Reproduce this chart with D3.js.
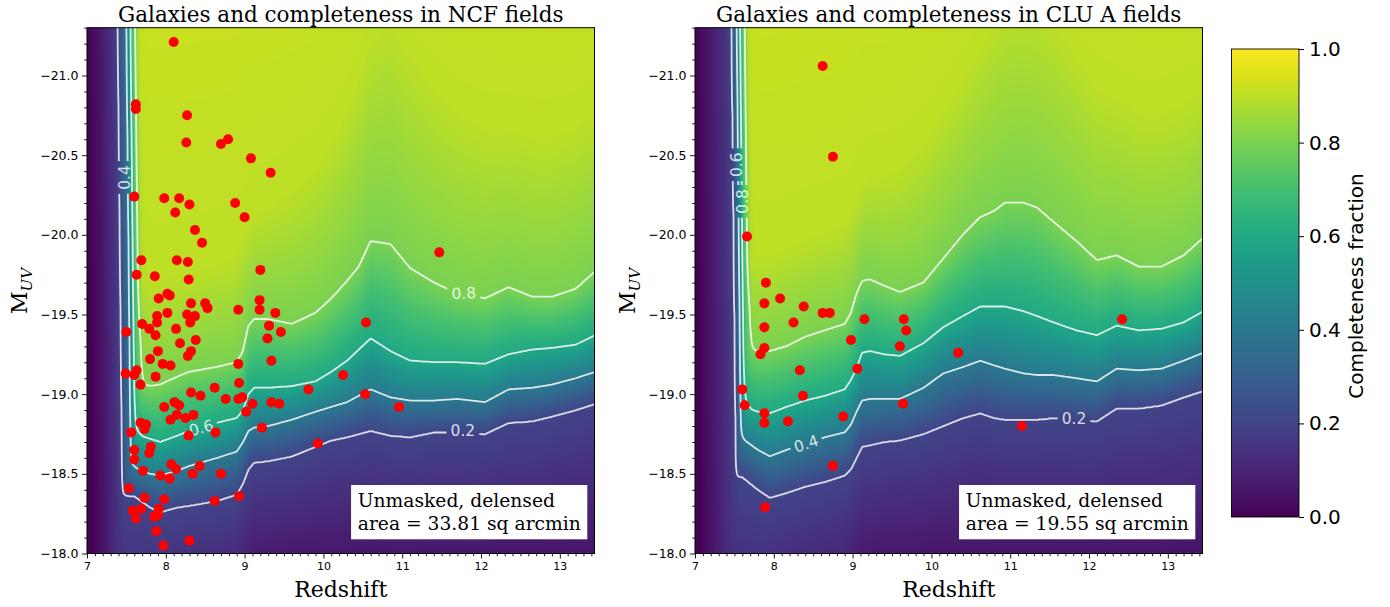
<!DOCTYPE html>
<html><head><meta charset="utf-8">
<script src="https://cdn.jsdelivr.net/npm/d3@7"></script>
<style>body{margin:0;background:#fff}svg{display:block}</style>
</head><body>
<svg id="chart" width="1390" height="607"></svg>
<script>
// ---------------- DATA ----------------
const zDomain = [7, 13.44];
const mDomain = [-18, -21.3];
const contourLevels = [0.2, 0.4, 0.6, 0.8];
const xTicks = [7, 8, 9, 10, 11, 12, 13];
const yTicks = [-21.0, -20.5, -20.0, -19.5, -19.0, -18.5, -18.0];
const cbTicks = [0, 0.2, 0.4, 0.6, 0.8, 1.0];
const wallValues = [0, 0.05, 0.13, 0.2, 0.4, 0.6, 0.8, 1.0, 3.0];

// NCF panel: completeness contour positions (M_UV) at redshift nodes
const ncfNodeZ = [7.6, 7.8, 7.93, 8.15, 8.3, 8.65, 8.9, 8.98, 9.05, 9.12, 9.3, 9.6, 9.9, 10.1, 10.3, 10.45, 10.6, 10.85, 11.1, 11.4, 11.7, 12.05, 12.35, 12.65, 12.9, 13.2, 13.45];
const ncfC90 = [-19.75, -19.70, -19.70, -19.72, -19.75, -19.80, -19.85, -19.95, -20.05, -20.10, -20.15, -20.25, -20.40, -20.55, -20.75, -20.95, -21.20, -21.30, -21.10, -20.90, -20.75, -20.65, -20.65, -20.60, -20.60, -20.65, -20.75];
const ncfC80 = [-19.07, -19.05, -19.06, -19.11, -19.14, -19.17, -19.20, -19.27, -19.43, -19.47, -19.47, -19.44, -19.51, -19.60, -19.71, -19.80, -19.96, -19.94, -19.79, -19.70, -19.63, -19.60, -19.67, -19.61, -19.61, -19.66, -19.77];
const ncfC60 = [-18.75, -18.72, -18.70, -18.74, -18.77, -18.82, -18.85, -18.90, -19.00, -19.04, -19.04, -19.05, -19.08, -19.14, -19.21, -19.28, -19.35, -19.27, -19.21, -19.20, -19.20, -19.19, -19.25, -19.28, -19.29, -19.31, -19.37];
const ncfC40 = [-18.54, -18.50, -18.49, -18.52, -18.55, -18.60, -18.64, -18.70, -18.77, -18.79, -18.80, -18.84, -18.89, -18.92, -18.95, -18.99, -19.03, -18.98, -18.96, -18.96, -18.97, -18.95, -19.03, -19.04, -19.06, -19.10, -19.14];
const ncfC20 = [-18.36, -18.29, -18.26, -18.29, -18.30, -18.33, -18.37, -18.44, -18.53, -18.57, -18.58, -18.61, -18.67, -18.71, -18.73, -18.75, -18.77, -18.74, -18.73, -18.76, -18.76, -18.75, -18.82, -18.83, -18.86, -18.90, -18.94];
const ncfFloor = [0.13, 0.13, 0.12, 0.11, 0.10, 0.09, 0.08, 0.06, 0.04, 0.03, 0.03, 0.02, 0.02, 0.02, 0.02, 0.02, 0.02, 0.02, 0.02, 0.02, 0.02, 0.02, 0.02, 0.02, 0.02, 0.02, 0.02];
const ncfWallZ = [7.0, 7.15, 7.3, 7.39, 7.50, 7.55, 7.59, 7.64, 7.8];

const ncfGalZ = [8.10, 7.62, 7.62, 8.27, 8.26, 8.70, 8.79, 9.08, 9.33, 7.60,
  7.98, 8.17, 8.30, 8.88, 8.12, 9.00, 8.37, 8.46, 7.69, 8.14,
  8.28, 7.63, 7.86, 8.29, 9.20, 7.91, 8.02, 8.05, 8.32, 8.50,
  8.53, 9.19, 8.92, 9.19, 9.39, 7.89, 7.89, 8.02, 8.27, 8.37,
  8.31, 7.70, 7.79, 8.13, 7.50, 7.87, 9.31, 9.46, 10.54, 8.38,
  8.18, 9.29, 7.90, 8.32, 8.28, 7.80, 7.96, 8.06, 9.34, 8.92,
  7.49, 7.63, 7.60, 7.87, 7.68, 10.25, 8.93, 9.81, 8.62, 8.32,
  8.44, 8.76, 8.92, 8.97, 10.53, 8.11, 8.17, 7.98, 9.10, 9.34,
  9.44, 9.02, 8.14, 8.06, 8.25, 8.35, 7.68, 7.75, 7.73, 9.22,
  7.56, 8.29, 8.63, 9.93, 7.81, 7.79, 7.60, 7.60, 8.07, 8.13,
  7.71, 8.43, 8.34, 8.70, 7.93, 8.05, 7.53, 7.73, 7.98, 8.62,
  8.93, 7.58, 7.69, 7.91, 7.85, 7.90, 7.62, 7.88, 8.30, 7.97,
  11.47, 10.96];
const ncfGalM = [-21.21, -20.82, -20.79, -20.75, -20.58, -20.57, -20.60, -20.48, -20.39, -20.24,
  -20.23, -20.23, -20.19, -20.20, -20.14, -20.11, -20.03, -19.95, -19.84, -19.84,
  -19.83, -19.75, -19.74, -19.72, -19.78, -19.60, -19.63, -19.62, -19.57, -19.57,
  -19.54, -19.59, -19.53, -19.53, -19.51, -19.49, -19.45, -19.51, -19.50, -19.49,
  -19.45, -19.44, -19.41, -19.41, -19.39, -19.37, -19.43, -19.39, -19.45, -19.34,
  -19.32, -19.35, -19.27, -19.27, -19.24, -19.22, -19.19, -19.18, -19.21, -19.19,
  -19.13, -19.15, -19.12, -19.11, -19.06, -19.12, -19.07, -19.03, -19.04, -19.01,
  -18.99, -18.97, -18.97, -18.98, -19.00, -18.95, -18.93, -18.92, -18.94, -18.95,
  -18.94, -18.89, -18.87, -18.84, -18.85, -18.87, -18.82, -18.81, -18.78, -18.79,
  -18.76, -18.74, -18.76, -18.69, -18.67, -18.63, -18.65, -18.59, -18.56, -18.53,
  -18.52, -18.55, -18.50, -18.50, -18.49, -18.47, -18.41, -18.35, -18.34, -18.33,
  -18.36, -18.27, -18.28, -18.28, -18.23, -18.24, -18.22, -18.14, -18.08, -18.05,
  -19.89, -18.92];
const ncfLabelText = ["0.4", "0.6", "0.8", "0.2"];
const ncfLabelZ = [7.47, 8.45, 11.78, 11.77];
const ncfLabelM = [-20.36, -18.79, -19.635, -18.77];

// CLU A panel
const cluNodeZ = [7.6, 7.8, 7.95, 8.16, 8.4, 8.65, 8.9, 8.98, 9.05, 9.12, 9.22, 9.4, 9.6, 9.9, 10.15, 10.4, 10.62, 10.8, 10.93, 11.17, 11.34, 11.55, 11.84, 12.1, 12.35, 12.63, 12.92, 13.2, 13.45];
const cluC90 = [-19.85, -19.85, -19.85, -19.90, -19.95, -20.00, -20.05, -20.10, -20.20, -20.30, -20.35, -20.35, -20.40, -20.55, -20.75, -20.95, -21.15, -21.30, -21.40, -21.45, -21.40, -21.30, -21.10, -20.90, -20.85, -20.75, -20.75, -20.80, -20.90];
const cluC80 = [-19.29, -19.27, -19.27, -19.30, -19.36, -19.40, -19.44, -19.51, -19.63, -19.71, -19.72, -19.68, -19.64, -19.70, -19.85, -20.00, -20.11, -20.15, -20.20, -20.20, -20.17, -20.08, -19.96, -19.84, -19.87, -19.80, -19.80, -19.87, -19.98];
const cluC60 = [-18.92, -18.89, -18.88, -18.92, -18.96, -18.99, -19.03, -19.09, -19.16, -19.26, -19.27, -19.25, -19.24, -19.32, -19.42, -19.49, -19.55, -19.55, -19.55, -19.52, -19.49, -19.45, -19.40, -19.37, -19.43, -19.40, -19.41, -19.45, -19.52];
const cluC40 = [-18.72, -18.65, -18.61, -18.65, -18.69, -18.73, -18.76, -18.81, -18.89, -18.96, -18.97, -18.97, -18.97, -19.04, -19.13, -19.17, -19.21, -19.18, -19.16, -19.13, -19.12, -19.12, -19.10, -19.08, -19.16, -19.15, -19.16, -19.21, -19.26];
const cluC20 = [-18.48, -18.40, -18.35, -18.38, -18.42, -18.45, -18.49, -18.53, -18.60, -18.67, -18.68, -18.70, -18.71, -18.75, -18.80, -18.85, -18.88, -18.85, -18.84, -18.84, -18.84, -18.85, -18.84, -18.83, -18.91, -18.91, -18.93, -18.98, -19.02];
const cluFloor = [0.12, 0.12, 0.11, 0.10, 0.09, 0.08, 0.07, 0.05, 0.04, 0.03, 0.03, 0.02, 0.02, 0.02, 0.02, 0.02, 0.02, 0.02, 0.02, 0.02, 0.02, 0.02, 0.02, 0.02, 0.02, 0.02, 0.02, 0.02, 0.02];
const cluWallZ = [7.0, 7.15, 7.35, 7.465, 7.53, 7.57, 7.61, 7.66, 7.8];

const cluGalZ = [8.62, 8.75, 7.66, 7.90, 7.88, 8.08, 8.38, 8.62, 8.71, 7.88,
  8.25, 9.15, 9.65, 9.68, 7.88, 7.83, 8.98, 9.60, 10.34, 8.33,
  9.06, 7.60, 8.37, 7.63, 7.88, 7.88, 8.18, 8.88, 9.64, 8.75,
  7.89, 12.42, 11.15];
const cluGalM = [-21.06, -20.49, -19.99, -19.70, -19.57, -19.60, -19.55, -19.51, -19.51, -19.42,
  -19.45, -19.47, -19.47, -19.40, -19.29, -19.25, -19.34, -19.30, -19.26, -19.15,
  -19.16, -19.03, -18.99, -18.93, -18.88, -18.82, -18.83, -18.86, -18.94, -18.55,
  -18.29, -19.47, -18.80];
const cluLabelText = ["0.6", "0.8", "0.4", "0.2"];
const cluLabelZ = [7.53, 7.60, 8.41, 11.81];
const cluLabelM = [-20.44, -20.21, -18.69, -18.85];

// ---------------- LAYOUT / STYLE ----------------
const svg = d3.select("#chart");
const defs = svg.append("defs");
const plotTop = 27.7, plotBottom = 553.5, plotW = 507.5;
const LEAN = 0.02, P = 6;

const panels = [
  {id: "ncf", left: 87, title: "Galaxies and completeness in NCF fields",
   nodeZ: ncfNodeZ, c: [ncfC90, ncfC80, ncfC60, ncfC40, ncfC20], floor: ncfFloor, wallZ: ncfWallZ,
   galZ: ncfGalZ, galM: ncfGalM, area: "33.81",
   lab: ncfLabelText, labZ: ncfLabelZ, labM: ncfLabelM, labAngle: [-90, -15, -3, 0]},
  {id: "clu", left: 695, title: "Galaxies and completeness in CLU A fields",
   nodeZ: cluNodeZ, c: [cluC90, cluC80, cluC60, cluC40, cluC20], floor: cluFloor, wallZ: cluWallZ,
   galZ: cluGalZ, galM: cluGalM, area: "19.55",
   lab: cluLabelText, labZ: cluLabelZ, labM: cluLabelM, labAngle: [-90, -90, -18, 0]}
];

// viridis lookup
const lut = d3.range(256).map(i => d3.rgb(d3.interpolateViridis(i / 255)));

function makeField(p) {
  const s = arr => d3.scaleLinear().domain(p.nodeZ).range(arr).clamp(true);
  const sc = p.c.map(s);
  const sf = s(p.floor);
  const wall = d3.scaleLinear().domain(p.wallZ).range(wallValues).clamp(true);
  return z => {
    const Ms = [-22.5, ...sc.map(f => f(z)), -17.8];
    const vs = [0.93, 0.9, 0.8, 0.6, 0.4, 0.2, sf(z)];
    const g = d3.scaleLinear().domain(Ms).range(vs).clamp(true);
    return M => {
      const f = wall(z - LEAN * (M + 21.3));
      const gv = g(M);
      if (f <= 0 || gv <= 0) return 0;
      return Math.pow(Math.pow(f, -P) + Math.pow(gv, -P), -1 / P);
    };
  };
}

panels.forEach(p => {
  const x = d3.scaleLinear().domain(zDomain).range([p.left, p.left + plotW]);
  const y = d3.scaleLinear().domain(mDomain).range([plotBottom, plotTop]);
  const g = svg.append("g");

  defs.append("clipPath").attr("id", "clip-" + p.id).append("rect")
    .attr("x", p.left).attr("y", plotTop).attr("width", plotW).attr("height", plotBottom - plotTop);

  // field grid
  const gx0 = Math.floor(p.left) - 2, gx1 = Math.ceil(p.left + plotW) + 2;
  const gy0 = Math.floor(plotTop) - 2, gy1 = Math.ceil(plotBottom) + 2;
  const n = gx1 - gx0, m = gy1 - gy0;
  const field = makeField(p);
  const values = new Float64Array(n * m);
  const Mrow = d3.range(m).map(j => y.invert(gy0 + j + 0.5));
  for (let i = 0; i < n; i++) {
    const col = field(x.invert(gx0 + i + 0.5));
    for (let j = 0; j < m; j++) values[j * n + i] = col(Mrow[j]);
  }
  const canvas = document.createElement("canvas");
  canvas.width = n; canvas.height = m;
  const ctx = canvas.getContext("2d");
  const img = ctx.createImageData(n, m);
  for (let k = 0; k < n * m; k++) {
    const c = lut[Math.max(0, Math.min(255, Math.round(values[k] * 255)))];
    img.data[4 * k] = c.r; img.data[4 * k + 1] = c.g; img.data[4 * k + 2] = c.b; img.data[4 * k + 3] = 255;
  }
  ctx.putImageData(img, 0, 0);
  g.append("image").attr("x", gx0).attr("y", gy0).attr("width", n).attr("height", m)
    .attr("preserveAspectRatio", "none")
    .attr("href", canvas.toDataURL()).attr("clip-path", `url(#clip-${p.id})`);

  // mask for contour labels
  const mask = defs.append("mask").attr("id", "mask-" + p.id)
    .attr("maskUnits", "userSpaceOnUse").attr("x", 0).attr("y", 0).attr("width", 1390).attr("height", 607);
  mask.append("rect").attr("x", 0).attr("y", 0).attr("width", 1390).attr("height", 607).attr("fill", "#fff");

  const contours = d3.contours().size([n, m]).thresholds(contourLevels)(Array.from(values));
  g.append("g").attr("clip-path", `url(#clip-${p.id})`)
    .append("g").attr("mask", `url(#mask-${p.id})`)
    .selectAll("path").data(contours).join("path")
    .attr("transform", `translate(${gx0},${gy0})`)
    .attr("d", d3.geoPath())
    .attr("fill", "none").attr("stroke", "#ffffff").attr("stroke-opacity", 0.82)
    .attr("stroke-width", 1.8).attr("stroke-linejoin", "round");

  // contour labels
  p.lab.forEach((t, i) => {
    const cx = x(p.labZ[i]), cy = y(p.labM[i]), a = p.labAngle[i];
    const txt = g.append("text").attr("transform", `translate(${cx},${cy}) rotate(${a})`)
      .attr("text-anchor", "middle").attr("dy", "0.36em")
      .attr("font-family", "DejaVu Sans").attr("font-size", 15.5)
      .attr("fill", "#ffffff").attr("fill-opacity", 0.82).text(t);
    const w = txt.node().getComputedTextLength();
    mask.append("rect").attr("transform", `translate(${cx},${cy}) rotate(${a})`)
      .attr("x", -w / 2 - 4).attr("y", -7).attr("width", w + 8).attr("height", 14).attr("fill", "#000");
  });

  // galaxies
  g.append("g").selectAll("circle").data(d3.range(p.galZ.length)).join("circle")
    .attr("cx", i => x(p.galZ[i])).attr("cy", i => y(p.galM[i])).attr("r", 5)
    .attr("fill", "#ff0000");

  // text box
  const tb = g.append("g");
  const lines = ["Unmasked, delensed", `area = ${p.area} sq arcmin`];
  const boxRight = p.left + plotW - 7.2, boxBottom = plotBottom - 14.2;
  const tt = tb.append("text").attr("font-family", "DejaVu Serif").attr("font-size", 18.7).attr("fill", "#000");
  const spans = lines.map(l => tt.append("tspan").text(l));
  const maxW = d3.max(spans, s => s.node().getComputedTextLength());
  const textLeft = boxRight - 6.5 - maxW;
  const base2 = boxBottom - 9.3, base1 = base2 - 23.3;
  spans[0].attr("x", textLeft).attr("y", base1);
  spans[1].attr("x", textLeft).attr("y", base2);
  tb.insert("rect", "text").attr("x", textLeft - 6.7).attr("y", base1 - 21.7)
    .attr("width", boxRight - textLeft + 6.7).attr("height", boxBottom - (base1 - 21.7)).attr("fill", "#fff");

  // axes
  const xAxis = g.append("g").attr("transform", `translate(0,${plotBottom})`)
    .call(d3.axisBottom(x).tickValues(xTicks).tickFormat(d3.format("d")).tickSize(5).tickPadding(3.5));
  const xMinor = d3.range(0, 65).map(i => 7 + i * 0.1).filter(v => v <= 13.44 && Math.abs(v - Math.round(v)) > 0.01);
  g.append("g").attr("transform", `translate(0,${plotBottom})`)
    .call(d3.axisBottom(x).tickValues(xMinor).tickFormat("").tickSize(2.8));
  const yAxis = g.append("g").attr("transform", `translate(${p.left},0)`)
    .call(d3.axisLeft(y).tickValues(yTicks).tickFormat(d3.format(".1f")).tickSize(5).tickPadding(3.5));
  const yMinor = d3.range(0, 34).map(i => -18 - i * 0.1).filter(v => v >= -21.3 && Math.abs(v * 2 - Math.round(v * 2)) > 0.01);
  g.append("g").attr("transform", `translate(${p.left},0)`)
    .call(d3.axisLeft(y).tickValues(yMinor).tickFormat("").tickSize(2.8));
  g.selectAll(".domain").remove();
  g.selectAll(".tick line").attr("stroke", "#000").attr("stroke-width", 0.9);
  xAxis.selectAll("text").attr("font-family", "DejaVu Sans").attr("font-size", 11).attr("fill", "#000");
  yAxis.selectAll("text").attr("font-family", "DejaVu Sans").attr("font-size", 12.5).attr("fill", "#000");

  // frame
  g.append("rect").attr("x", p.left).attr("y", plotTop).attr("width", plotW).attr("height", plotBottom - plotTop)
    .attr("fill", "none").attr("stroke", "#000").attr("stroke-width", 1);

  // titles and labels
  const cx = p.left + plotW / 2;
  g.append("text").attr("x", cx).attr("y", 21.5).attr("text-anchor", "middle")
    .attr("font-family", "DejaVu Serif").attr("font-size", 21.5).text(p.title);
  g.append("text").attr("x", cx).attr("y", 597).attr("text-anchor", "middle")
    .attr("font-family", "DejaVu Serif").attr("font-size", 22).text("Redshift");
  const yl = g.append("text").attr("transform", `translate(${p.left - 60},291) rotate(-90)`)
    .attr("text-anchor", "middle").attr("font-family", "DejaVu Serif").attr("font-size", 22);
  yl.append("tspan").text("M");
  yl.append("tspan").attr("font-style", "italic").attr("font-size", 15).attr("dy", 4.5).text("UV");
});

// ---------------- COLORBAR ----------------
const cbX = 1231.5, cbW = 67.5, cbTop = 49, cbBottom = 517;
const grad = defs.append("linearGradient").attr("id", "cbgrad").attr("x1", 0).attr("y1", 1).attr("x2", 0).attr("y2", 0);
d3.range(0, 21).forEach(i => grad.append("stop").attr("offset", i / 20).attr("stop-color", d3.interpolateViridis(i / 20)));
svg.append("rect").attr("x", cbX).attr("y", cbTop).attr("width", cbW).attr("height", cbBottom - cbTop)
  .attr("fill", "url(#cbgrad)").attr("stroke", "#000").attr("stroke-width", 0.9);
const cbScale = d3.scaleLinear().domain([0, 1]).range([cbBottom, cbTop]);
const cbAxis = svg.append("g").attr("transform", `translate(${cbX + cbW},0)`)
  .call(d3.axisRight(cbScale).tickValues(cbTicks).tickFormat(d3.format(".1f")).tickSize(5).tickPadding(5));
cbAxis.select(".domain").remove();
cbAxis.selectAll(".tick line").attr("stroke", "#000");
cbAxis.selectAll("text").attr("font-family", "DejaVu Sans").attr("font-size", 20).attr("fill", "#000");
svg.append("text").attr("transform", `translate(1363,286) rotate(-90)`).attr("text-anchor", "middle")
  .attr("font-family", "DejaVu Sans").attr("font-size", 20).text("Completeness fraction");
</script>
</body></html>
